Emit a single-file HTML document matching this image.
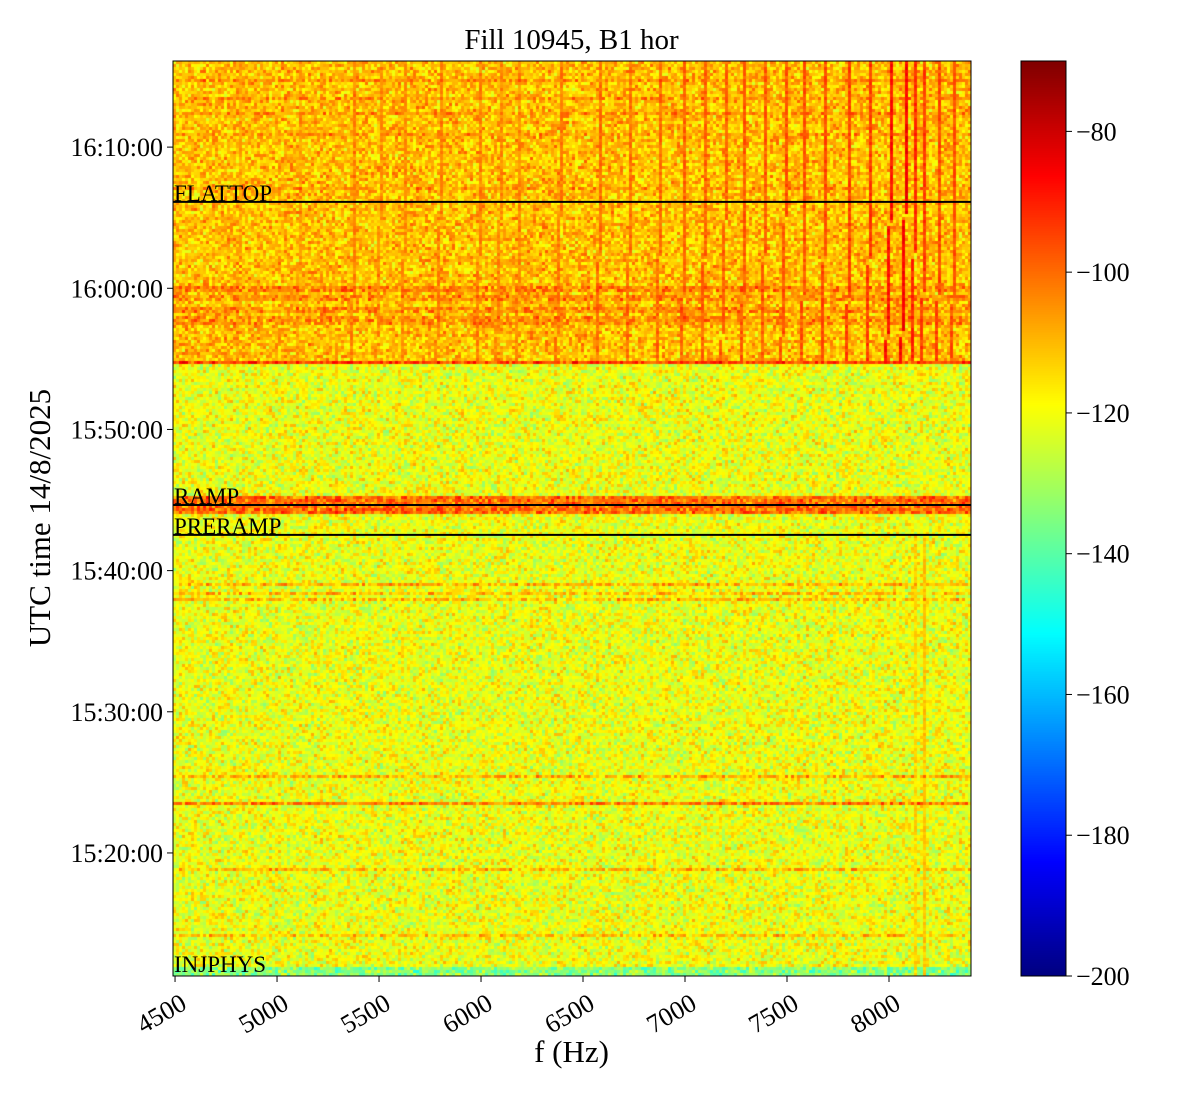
<!DOCTYPE html>
<html><head><meta charset="utf-8">
<style>
body{margin:0;background:#fff;}
#wrap{position:relative;width:1200px;height:1100px;font-family:"Liberation Serif",serif;}
.t{position:absolute;white-space:nowrap;color:#000;}
</style></head><body>
<div id="wrap">
<div class="t" style="left:0;width:1143px;text-align:center;top:24px;font-size:29px;">Fill 10945, B1 hor</div>
<canvas id="hm" width="798" height="915" style="position:absolute;left:173px;top:61px;"></canvas>
<canvas id="cb" width="45" height="915" style="position:absolute;left:1021px;top:61px;"></canvas>
<svg id="ov" width="1200" height="1100" style="position:absolute;left:0;top:0;"></svg>
<div class="t" style="left:0;width:1143px;text-align:center;top:1034px;font-size:31px;">f (Hz)</div>
<div class="t" style="left:40px;top:518px;font-size:31px;transform:translate(-50%,-50%) rotate(-90deg);">UTC time 14/8/2025</div>
</div>
<script>
// ---- data ----
const fMin=4490, fMax=8402;            // Hz
const tTop=4566, tBot=677;             // seconds after 15:00:00
const xTicks=[4500,5000,5500,6000,6500,7000,7500,8000];
const yTicks=[1200,1800,2400,3000,3600,4200];
const yTickLabels=["15:20:00","15:30:00","15:40:00","15:50:00","16:00:00","16:10:00"];
const cbTicks=[-80,-100,-120,-140,-160,-180,-200];
const cMin=-200, cMax=-70;
const eventNames=["FLATTOP","RAMP","PRERAMP","INJPHYS"];
const eventTimes=[3967,2679,2552,690];
const regionStarts=[677,718,3287];   // segment start times
const regionLevels=[-134,-121,-111]; // mean dB per segment
const bandTimes=[3287,2686,2660,2710,2339,2275,2300,1531,1412,1127,851,3600,3560,3470,3450,4480,4410,4340,4250,4030,3510];
const bandWidths=[6,20,12,12,8,6,6,6,3,6,6,10,8,8,6,6,6,6,6,6,8];
const bandLevels=[-94,-101,-100,-100,-110,-111,-112,-110,-103,-111,-112,-104,-105,-105,-106,-105,-106,-106,-107,-107,-105];
const streakFreqs=[4819,5113,5382,5505,5627,5799,5995,6093,6191,6387,6583,6730,6877,7000,7098,7196,7294,7392,7490,7588,7686,7809,7907,8005,8078,8127,8176,8250,8324];
const streakLevels=[-108,-108,-104,-105,-105,-103,-103,-104,-104,-102,-101,-101,-100,-99,-99,-99,-98,-98,-97,-97,-96,-95,-94,-88,-86,-92,-94,-96,-97];
const lowStreakFreqs=[8170,8130];
const lowStreakLevels=[-112,-114];

// ---- scales ----
const PX=173,PY=61,PW=798,PH=915;
function xs(f){return PX+(f-fMin)/(fMax-fMin)*PW;}
function ys(t){return PY+(tTop-t)/(tTop-tBot)*PH;}
function jet(v){const x=Math.max(0,Math.min(1,(v-cMin)/(cMax-cMin)));
 const c=a=>Math.round(255*Math.max(0,Math.min(1,a)));
 return [c(1.5-Math.abs(4*x-3)),c(1.5-Math.abs(4*x-2)),c(1.5-Math.abs(4*x-1))];}
function hash(i,j){let h=(i*374761393+j*668265263)|0;h=(h^(h>>>13))*1274126177|0;return ((h^(h>>>16))>>>0)/4294967296;}

// ---- heatmap ----
const ctx=document.getElementById('hm').getContext('2d');
const img=ctx.createImageData(PW,PH);
const cw=3,ch=3;
for(let py=0;py<PH;py+=ch){
 const t=tTop-(py+1)/PH*(tTop-tBot);
 let base=regionLevels[0];
 for(let k=0;k<regionStarts.length;k++) if(t>=regionStarts[k]) base=regionLevels[k];
 for(let b=0;b<bandTimes.length;b++) if(Math.abs(t-bandTimes[b])<bandWidths[b]) base=Math.max(base,bandLevels[b]);
 const upper=t>=regionStarts[2];
 for(let px=0;px<PW;px+=cw){
  const f=fMin+(px+1)/PW*(fMax-fMin);
  const n=hash(px,py)+hash(py+11,px+5)-1;
  let v=base+n*14;
  if(upper){
   const slant=t<eventTimes[0]?(eventTimes[0]-t)*0.03:0;
   for(let s=0;s<streakFreqs.length;s++){
    const d=Math.abs(f-(streakFreqs[s]-slant));
    if(d<7) v=Math.max(v,streakLevels[s]+(hash(py,px+7)-0.5)*8);
   }
  } else if(t<eventTimes[2]){
   for(let s=0;s<lowStreakFreqs.length;s++)
    if(Math.abs(f-lowStreakFreqs[s])<8) v=Math.max(v,lowStreakLevels[s]+(hash(py,px+3)-0.5)*8);
  }
  const [r,g,bl]=jet(v);
  for(let yy=py;yy<Math.min(PH,py+ch);yy++)for(let xx=px;xx<Math.min(PW,px+cw);xx++){
   const o=(yy*PW+xx)*4;img.data[o]=r;img.data[o+1]=g;img.data[o+2]=bl;img.data[o+3]=255;}
 }
}
ctx.putImageData(img,0,0);

// ---- colorbar ----
const cctx=document.getElementById('cb').getContext('2d');
for(let y=0;y<PH;y++){const v=cMax-(y/PH)*(cMax-cMin);const [r,g,b]=jet(v);cctx.fillStyle=`rgb(${r},${g},${b})`;cctx.fillRect(0,y,45,1);}

// ---- overlay ----
const svg=document.getElementById('ov');const NS='http://www.w3.org/2000/svg';
function el(tag,at){const e=document.createElementNS(NS,tag);for(const k in at)e.setAttribute(k,at[k]);svg.appendChild(e);return e;}
let fr=el('rect',{x:PX,y:PY,width:PW,height:PH,fill:'none',stroke:'#000','stroke-width':1});


let cf=el('rect',{x:1021,y:PY,width:45,height:PH,fill:'none',stroke:'#000','stroke-width':1});


eventTimes.forEach((t,i)=>{
 const y=ys(t);
 if(i<3){const l=el('line',{x1:PX,x2:PX+PW,y1:y,y2:y,stroke:'#000','stroke-width':2});
  
  }
 const tx=el('text',{x:PX+1,y:Math.min(y-1,PY+PH-2),'font-size':23,'font-family':'Liberation Serif, serif'});
 tx.textContent=eventNames[i];
 
 
});
xTicks.forEach(f=>{const x=xs(f);
 const tk=el('line',{x1:x,x2:x,y1:PY+PH,y2:PY+PH+6,stroke:'#000'});
 
 
 const tx=el('text',{x:x+4,y:PY+PH+16,'font-size':26,'font-family':'Liberation Serif, serif','text-anchor':'end',transform:`rotate(-30 ${x+4} ${PY+PH+16})`,'dominant-baseline':'hanging'});
 tx.textContent=f;
 
 });
yTicks.forEach((t,i)=>{const y=ys(t);
 const tk=el('line',{x1:PX-6,x2:PX,y1:y,y2:y,stroke:'#000'});
 
 
 const tx=el('text',{x:PX-10,y:y+9,'font-size':26,'font-family':'Liberation Serif, serif','text-anchor':'end'});
 tx.textContent=yTickLabels[i];
 
 });
cbTicks.forEach(v=>{const y=PY+(cMax-v)/(cMax-cMin)*PH;
 const tk=el('line',{x1:1066,x2:1072,y1:y,y2:y,stroke:'#000'});
 
 
 const tx=el('text',{x:1076,y:y+9,'font-size':26,'font-family':'Liberation Serif, serif'});
 tx.textContent=String(v).replace('-','\u2212');
 
 });
</script>
</body></html>
